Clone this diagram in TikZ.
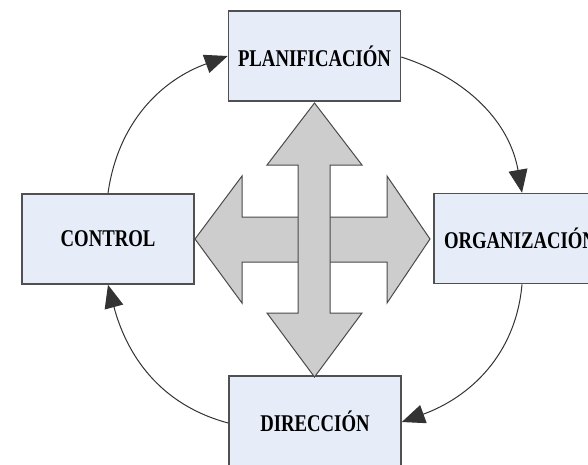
\documentclass[tikz,border=0pt]{standalone}
\usepackage{fontspec}
\newfontfamily\condfont[FakeStretch=0.78]{Liberation Serif}
\usetikzlibrary{arrows.meta}
\definecolor{boxfill}{HTML}{E6ECF8}
\definecolor{boxline}{HTML}{505050}
\definecolor{crossfill}{HTML}{CDCDCD}
\definecolor{crossline}{HTML}{4A4A4A}
\tikzset{
  stagebox/.style={draw=boxline, fill=boxfill, line width=1.6pt, minimum width=172pt, minimum height=90pt, inner sep=0pt,
    font=\condfont\bfseries\fontsize{24}{24}\selectfont},
  cycle/.style={draw=black!80, line width=1pt, -{Triangle[length=23pt,width=19pt]}},
  crossarrow/.style={fill=crossfill, draw=crossline, line width=1pt, line join=miter}
}
\begin{document}
\begin{tikzpicture}[x=1pt,y=-1pt]
\useasboundingbox (0,0) rectangle (588,464);
\clip (0,0) rectangle (588,464);
\fill[white] (0,0) rectangle (588,464);
% boxes
\node[stagebox] (plan) at (314.5,56) {PLANIFICACIÓN};
\node[stagebox] (ctrl) at (108,239) {CONTROL};
\node[stagebox] (org) at (520,238.5) {ORGANIZACIÓN};
\node[stagebox] (dir) at (315,421) {DIRECCIÓN};
% cross: horizontal double arrow
\draw[crossarrow] (195,239) -- (242,176) -- (242,217) -- (387,217) -- (387,176) -- (430,239)
  -- (387,303) -- (387,262) -- (242,262) -- (242,303) -- cycle;
% vertical double arrow
\draw[crossarrow] (314.5,103) -- (362,165) -- (330,165) -- (330,313) -- (362,313) -- (314.5,377)
  -- (267,313) -- (298,313) -- (298,165) -- (267,165) -- cycle;
% cycle arrows
\draw[cycle] (ctrl.north) to[out=82,in=200] (plan.west);
\draw[cycle] ([yshift=-1pt]plan.east) to[out=-18,in=100] ([xshift=2pt]org.north);
\draw[cycle] ([xshift=2pt]org.south) to[out=-95,in=20] ([yshift=-1pt]dir.east);
\draw[cycle] ([yshift=-2pt]dir.west) to[out=165,in=-75] (ctrl.south);
\end{tikzpicture}
\end{document}
